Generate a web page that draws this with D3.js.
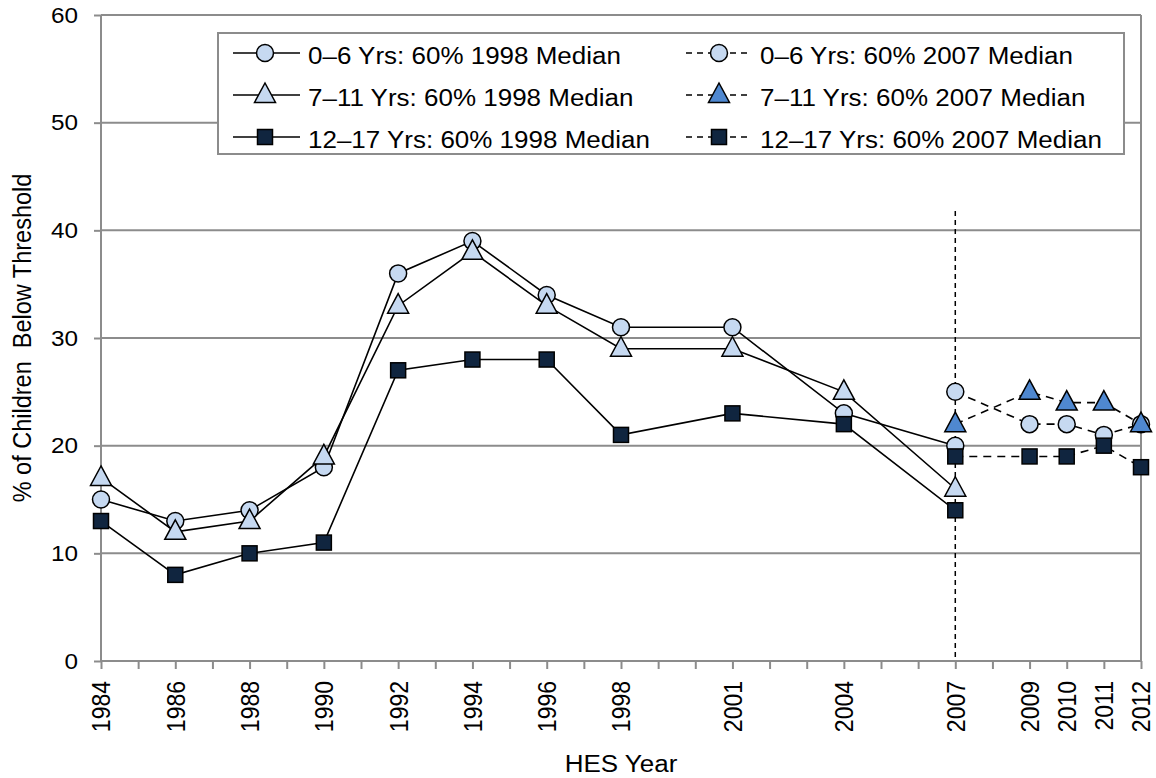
<!DOCTYPE html>
<html>
<head>
<meta charset="utf-8">
<script src="https://cdn.jsdelivr.net/npm/d3@7"></script>
<style>
  body { margin: 0; background: #fff; }
  text { font-family: "Liberation Sans", Arial, sans-serif; fill: #000; }
</style>
</head>
<body>
<div id="chart"></div>
<script>
var width = 1156,
    height = 778,
    margin = { top: 15, right: 15, bottom: 117, left: 101 },
    innerWidth = width - margin.left - margin.right,
    innerHeight = height - margin.top - margin.bottom;

// data
var years1998 = [1984, 1986, 1988, 1990, 1992, 1994, 1996, 1998, 2001, 2004, 2007];
var age06_1998 = [15, 13, 14, 18, 36, 39, 34, 31, 31, 23, 20];
var age711_1998 = [17, 12, 13, 19, 33, 38, 33, 29, 29, 25, 16];
var age1217_1998 = [13, 8, 10, 11, 27, 28, 28, 21, 23, 22, 14];

var years2007 = [2007, 2009, 2010, 2011, 2012];
var age06_2007 = [25, 22, 22, 21, 22];
var age711_2007 = [22, 25, 24, 24, 22];
var age1217_2007 = [19, 19, 19, 20, 18];

var tickYears = [1984, 1986, 1988, 1990, 1992, 1994, 1996, 1998, 2001, 2004, 2007, 2009, 2010, 2011, 2012];
var yTicks = [0, 10, 20, 30, 40, 50, 60];

var lightBlue = "#c6d9f1",
    midBlue = "#4f88d0",
    navy = "#10253f",
    gridColor = "#8c8c8c",
    stretch = 1.13; // the original text is a bit wide

var series = [
    { name: "0\u20136 Yrs: 60% 1998 Median", years: years1998, values: age06_1998, shape: "circle", fill: lightBlue, dashed: false },
    { name: "7\u201311 Yrs: 60% 1998 Median", years: years1998, values: age711_1998, shape: "triangle", fill: lightBlue, dashed: false },
    { name: "12\u201317 Yrs: 60% 1998 Median", years: years1998, values: age1217_1998, shape: "square", fill: navy, dashed: false },
    { name: "0\u20136 Yrs: 60% 2007 Median", years: years2007, values: age06_2007, shape: "circle", fill: lightBlue, dashed: true },
    { name: "7\u201311 Yrs: 60% 2007 Median", years: years2007, values: age711_2007, shape: "triangle", fill: midBlue, dashed: true },
    { name: "12\u201317 Yrs: 60% 2007 Median", years: years2007, values: age1217_2007, shape: "square", fill: navy, dashed: true }
];

var svg = d3.select("#chart")
    .append("svg")
    .attr("width", width)
    .attr("height", height);

var g = svg.append("g")
    .attr("transform", `translate(${margin.left}, ${margin.top})`);

var x = d3.scaleLinear().domain([1984, 2012]).range([0, innerWidth]);
var y = d3.scaleLinear().domain([0, 60]).range([innerHeight, 0]);

// text helper: position, then widen horizontally
function wideText(parent, tx, ty, rot, size, anchor, str) {
    var t = parent.append("g")
        .attr("transform", `translate(${tx}, ${ty}) scale(${stretch}, 1)` + (rot ? ` rotate(${rot})` : ""))
        .append("text")
        .style("font-size", size + "px")
        .style("text-anchor", anchor)
        .text(str);
    return t;
}

// gridlines
g.selectAll("line.grid")
    .data(yTicks.filter(d => d > 0))
    .enter()
    .append("line")
    .attr("class", "grid")
    .attr("x1", 0)
    .attr("x2", innerWidth)
    .attr("y1", d => y(d))
    .attr("y2", d => y(d))
    .style("stroke", gridColor)
    .style("stroke-width", 2);

// right border
g.append("line")
    .attr("x1", innerWidth).attr("x2", innerWidth)
    .attr("y1", 0).attr("y2", innerHeight)
    .style("stroke", gridColor)
    .style("stroke-width", 2);

// y axis
var yAxis = d3.axisLeft(y).tickValues(yTicks).tickSize(7).tickFormat("");
var yg = g.append("g").call(yAxis);
yg.select(".domain").style("stroke", gridColor).style("stroke-width", 2).attr("d", `M0,${innerHeight}V0`);
yg.selectAll(".tick line").style("stroke", gridColor).style("stroke-width", 2);
yg.selectAll(".tick text").remove();
yTicks.forEach(function (v) {
    wideText(g, -23, y(v), 0, 21.5, "end", v).attr("dy", "0.36em");
});

// x axis: minor tick every year, labels at survey years
var allYears = d3.range(1984, 2013);
var xAxis = d3.axisBottom(x).tickValues(allYears).tickSize(8).tickFormat("");
var xg = g.append("g")
    .attr("transform", `translate(0, ${innerHeight})`)
    .call(xAxis);
xg.select(".domain").style("stroke", gridColor).style("stroke-width", 2).attr("d", `M0,0H${innerWidth}`);
xg.selectAll(".tick line").style("stroke", gridColor).style("stroke-width", 2);
xg.selectAll(".tick text").remove();
tickYears.forEach(function (yr) {
    wideText(g, x(yr), innerHeight + 20, -90, 23, "end", yr).attr("dy", "0.36em");
});

// axis titles
wideText(svg, 31, margin.top + innerHeight / 2, -90, 23.5, "middle", "% of Children  Below Threshold")
    .style("white-space", "pre");

wideText(svg, margin.left + innerWidth / 2, 772, 0, 23, "middle", "HES Year");

// 2007 divider
g.append("line")
    .attr("x1", x(2007)).attr("x2", x(2007))
    .attr("y1", y(41.8)).attr("y2", innerHeight)
    .style("stroke", "#000")
    .style("stroke-width", 1.5)
    .style("stroke-dasharray", "5,4");

function drawMarker(sel, shape, fill) {
    var m;
    if (shape === "circle") {
        m = sel.append("circle").attr("r", 8.5);
    } else if (shape === "triangle") {
        m = sel.append("path").attr("d", "M0,-12L10.5,7.5L-10.5,7.5Z");
    } else {
        m = sel.append("rect").attr("x", -7.5).attr("y", -7.5).attr("width", 15).attr("height", 15);
    }
    m.style("fill", fill).style("stroke", "#000").style("stroke-width", 1.5);
    return m;
}

var line = d3.line().x(d => x(d[0])).y(d => y(d[1]));

series.forEach(function (s) {
    var pts = s.years.map((yr, i) => [yr, s.values[i]]);
    g.append("path")
        .datum(pts)
        .attr("d", line)
        .style("fill", "none")
        .style("stroke", "#000")
        .style("stroke-width", 1.6)
        .style("stroke-dasharray", s.dashed ? "8,6" : null);
});

series.forEach(function (s) {
    var pts = s.years.map((yr, i) => [yr, s.values[i]]);
    pts.forEach(function (p) {
        var mg = g.append("g").attr("transform", `translate(${x(p[0])}, ${y(p[1])})`);
        drawMarker(mg, s.shape, s.fill);
    });
});

// legend
var legend = svg.append("g").attr("transform", "translate(218, 33)");
legend.append("rect")
    .attr("width", 906)
    .attr("height", 121)
    .style("fill", "#fff")
    .style("stroke", gridColor)
    .style("stroke-width", 2);

series.forEach(function (s, i) {
    var col = Math.floor(i / 3), row = i % 3;
    var lx = col === 0 ? 15 : 468;
    var ly = 20 + row * 42;
    var item = legend.append("g").attr("transform", `translate(${lx}, ${ly})`);
    item.append("line")
        .attr("x1", 0).attr("x2", col === 0 ? 67 : 63)
        .attr("y1", 0).attr("y2", 0)
        .style("stroke", "#000")
        .style("stroke-width", 1.5)
        .style("stroke-dasharray", s.dashed ? "6,5" : null);
    var mg = item.append("g").attr("transform", `translate(${col === 0 ? 32 : 33}, 0)`);
    drawMarker(mg, s.shape, s.fill);
    wideText(item, col === 0 ? 75 : 74, 3, 0, 23, "start", s.name).attr("dy", "0.35em");
});
</script>
</body>
</html>
